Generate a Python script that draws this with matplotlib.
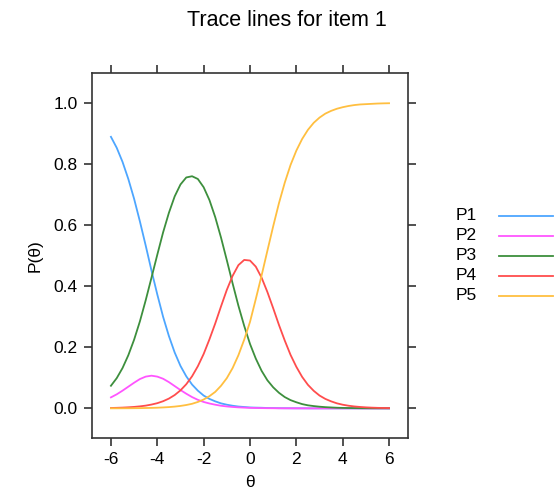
import matplotlib
matplotlib.use("Agg")
import matplotlib.pyplot as plt
from matplotlib.lines import Line2D

plt.rcParams['font.family'] = ['Liberation Sans', 'DejaVu Sans']

# theta grid, -6 .. 6 in steps of 0.25
theta = [i / 4 for i in range(-24, 25)]

# trace line values
p1 = [0.889, 0.853, 0.807, 0.751, 0.686, 0.612, 0.533, 0.451, 0.373, 0.300,
      0.237, 0.183, 0.139, 0.105, 0.078, 0.058, 0.042, 0.031, 0.023, 0.0164,
      0.012, 0.0086, 0.006, 0.0045, 0.003, 0.0024, 0.002, 0.0012, 0.001, 0.0006,
      0.0005, 0.0003, 0.0002, 0.0002, 0.0001,
      0, 0, 0, 0, 0, 0, 0, 0, 0, 0, 0, 0, 0, 0]
p2 = [0.036, 0.046, 0.058, 0.071, 0.084, 0.096, 0.104, 0.107, 0.104, 0.097,
      0.086, 0.073, 0.060, 0.048, 0.037, 0.028, 0.021, 0.016, 0.012, 0.0086,
      0.0063, 0.0046, 0.0033, 0.0024, 0.0017, 0.0013, 0.0009, 0.0006, 0.0005, 0.0003,
      0.0002, 0.0002, 0.0001, 0.0001,
      0, 0, 0, 0, 0, 0, 0, 0, 0, 0, 0, 0, 0, 0, 0]
p3 = [0.074, 0.099, 0.132, 0.174, 0.225, 0.285, 0.354, 0.428, 0.503, 0.576,
      0.640, 0.694, 0.733, 0.756, 0.760, 0.751, 0.724, 0.682, 0.626, 0.559,
      0.485, 0.409, 0.336, 0.270, 0.211, 0.163, 0.123, 0.092, 0.069, 0.051,
      0.037, 0.027, 0.020, 0.014, 0.010, 0.0075, 0.0055, 0.004, 0.003, 0.0021,
      0.0015, 0.0011, 0.0008, 0.0006, 0.0004, 0.0003, 0.0002, 0.0002, 0.0001]
p4 = [0.0013, 0.0018, 0.0025, 0.0035, 0.0048, 0.0066, 0.009, 0.0125, 0.017, 0.0234,
      0.032, 0.0436, 0.059, 0.079, 0.105, 0.138, 0.178, 0.226, 0.278, 0.334,
      0.388, 0.434, 0.469, 0.486, 0.484, 0.464, 0.428, 0.381, 0.328, 0.273,
      0.222, 0.175, 0.136, 0.103, 0.077, 0.0574, 0.042, 0.031, 0.023, 0.0165,
      0.012, 0.0087, 0.0063, 0.0046, 0.0033, 0.0024, 0.0017, 0.0013, 0.0009]
p5 = [0.0002, 0.0002, 0.0003, 0.0004, 0.0006, 0.0008, 0.0012, 0.0016, 0.0022, 0.0031,
      0.0042, 0.0058, 0.008, 0.011, 0.015, 0.021, 0.029, 0.040, 0.054, 0.074,
      0.099, 0.132, 0.174, 0.225, 0.283, 0.358, 0.435, 0.516, 0.596, 0.672,
      0.739, 0.797, 0.844, 0.882, 0.912, 0.935, 0.952, 0.965, 0.974, 0.981,
      0.986, 0.990, 0.993, 0.995, 0.996, 0.997, 0.998, 0.9986, 0.999]

labels = ['P1', 'P2', 'P3', 'P4', 'P5']
colors = ['#4da6ff', '#ff55ff', '#3d8f3d', '#ff4d4d', '#ffbf40']
series = [p1, p2, p3, p4, p5]

W, H = 554, 503
fig = plt.figure(figsize=(W / 100, H / 100), dpi=100)
ax = fig.add_axes([91.7 / W, 1 - 438 / H, (408.3 - 91.7) / W, (438 - 73.3) / H])

for y, c in zip(series, colors):
    ax.plot(theta, y, color=c, lw=1.3)

ax.set_xlim(-6.83, 6.83)
ax.set_ylim(-0.097, 1.097)
ax.set_xticks([-6, -4, -2, 0, 2, 4, 6])
ax.set_yticks([0.0, 0.2, 0.4, 0.6, 0.8, 1.0])
ax.set_xticklabels(['-6', '-4', '-2', '0', '2', '4', '6'])
ax.set_yticklabels(['0.0', '0.2', '0.4', '0.6', '0.8', '1.0'])
ax.tick_params(direction='out', length=6, width=1.2, color='#333333',
               labelsize=12.5, top=True, right=True, pad=4)
for s in ax.spines.values():
    s.set_color('#333333')
    s.set_linewidth(1.2)

ax.set_xlabel('θ', fontsize=12.5, labelpad=6)
ax.set_ylabel('P(θ)', fontsize=12.5, labelpad=8)

fig.text(287 / W, 1 - 21 / H, 'Trace lines for item 1', fontsize=15.5,
         ha='center', va='center')

# key on the right
key_y = [216, 236, 256, 276, 296]
for lab, c, yy in zip(labels, colors, key_y):
    fig.text(456 / W, 1 - yy / H, lab, fontsize=12.5, ha='left', va='center')
    fig.lines.append(Line2D([499 / W, 553 / W], [1 - yy / H, 1 - yy / H],
                            transform=fig.transFigure, color=c, lw=1.3))

fig.savefig('out.png', dpi=100)
